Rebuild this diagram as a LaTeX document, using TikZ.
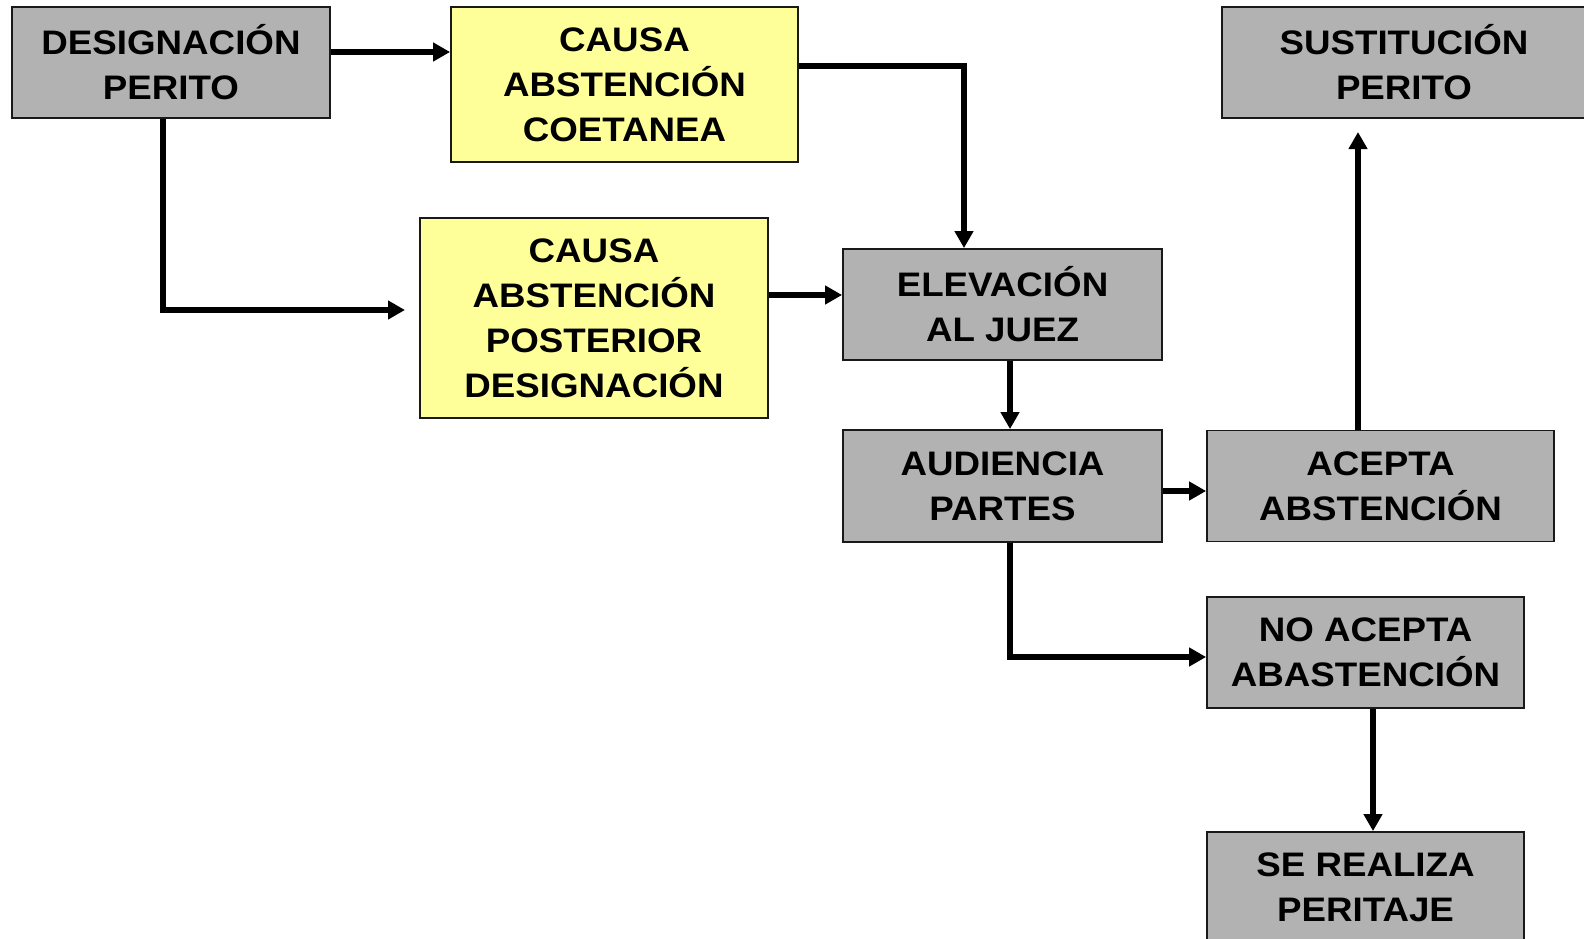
\documentclass[tikz,border=0pt]{standalone}
\usepackage{fontspec}
\setmainfont[FakeStretch=1.08]{Liberation Sans}
\usepackage{tikz}
\usetikzlibrary{arrows.meta}
\definecolor{boxgray}{RGB}{178,178,178}
\definecolor{boxyellow}{RGB}{255,255,153}

\begin{document}
\begin{tikzpicture}[x=1pt, y=-1pt,
  box/.style={draw=black!90, line width=1.8pt, fill=boxgray, align=center, inner sep=0pt,
    font=\fontsize{34}{45}\selectfont\bfseries},
  causa/.style={box, fill=boxyellow},
  arr/.style={line width=5.5pt, -{Triangle[length=17pt,width=18pt]}}]
\useasboundingbox (0,0) rectangle (1584,939);
\clip (0,0) rectangle (1584,939);
\node[box, minimum width=318, minimum height=111] (desig) at (171,62.5) {DESIGNACIÓN\\PERITO};
\node[causa, minimum width=347, minimum height=155] (coet) at (624.5,84.5) {CAUSA\\ABSTENCIÓN\\COETANEA};
\node[causa, minimum width=348, minimum height=200] (poster) at (594,318) {CAUSA\\ABSTENCIÓN\\POSTERIOR\\DESIGNACIÓN};
\node[box, minimum width=319, minimum height=111] (elev) at (1002.5,304.5) {ELEVACIÓN\\AL JUEZ};
\node[box, minimum width=319, minimum height=112] (aud) at (1002.5,486) {AUDIENCIA\\PARTES};
\node[box, minimum width=347, minimum height=111] (acep) at (1380.5,486) {ACEPTA\\ABSTENCIÓN};
\node[box, minimum width=364, minimum height=111] (sust) at (1404,62.5) {SUSTITUCIÓN\\PERITO};
\node[box, minimum width=317, minimum height=111] (noacep) at (1365.5,652.5) {NO ACEPTA\\ABASTENCIÓN};
\node[box, minimum width=317, minimum height=110] (realiza) at (1365.5,887) {SE REALIZA\\PERITAJE};
\coordinate (tip1) at (405,310);
\coordinate (tip2) at (1358,132);

\draw[arr] (desig.east |- 0,52) -- (coet.west |- 0,52);
\draw[arr] (desig.south -| 163,0) |- (tip1);
\draw[arr] (coet.east |- 0,66) -| (elev.north -| 964,0);
\draw[arr] (poster.east |- 0,295) -- (elev.west |- 0,295);
\draw[arr] (elev.south -| 1010,0) -- (aud.north -| 1010,0);
\draw[arr] (aud.east |- 0,491) -- (acep.west |- 0,491);
\draw[arr] (aud.south -| 1010,0) |- (noacep.west |- 0,657);
\draw[arr] (acep.north -| 1358,0) -- (tip2);
\draw[arr] (noacep.south -| 1373,0) -- (realiza.north -| 1373,0);
\end{tikzpicture}
\end{document}
